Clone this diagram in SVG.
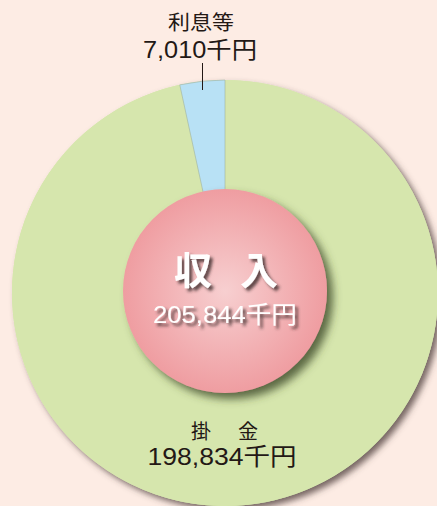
<svg xmlns="http://www.w3.org/2000/svg" width="437" height="506" viewBox="0 0 437 506">
<style>
.lbl{font-family:"Liberation Sans","Noto Sans CJK JP",sans-serif;fill:#231815;}
.wt{font-family:"Liberation Sans","Noto Sans CJK JP",sans-serif;fill:#ffffff;}
</style>
<defs>
<filter id="sh1" x="-10%" y="-10%" width="130%" height="130%">
<feGaussianBlur in="SourceAlpha" stdDeviation="3"/>
<feOffset dx="4" dy="4" result="b"/>
<feFlood flood-color="#4a3a38" flood-opacity="0.75"/>
<feComposite in2="b" operator="in"/>
<feMerge><feMergeNode/><feMergeNode in="SourceGraphic"/></feMerge>
</filter>
<filter id="sh2" x="-20%" y="-20%" width="150%" height="150%">
<feGaussianBlur in="SourceAlpha" stdDeviation="4"/>
<feOffset dx="6" dy="6" result="b"/>
<feFlood flood-color="#3e4a2a" flood-opacity="0.8"/>
<feComposite in2="b" operator="in"/>
<feMerge><feMergeNode/><feMergeNode in="SourceGraphic"/></feMerge>
</filter>
<filter id="tsh" x="-10%" y="-20%" width="130%" height="160%">
<feGaussianBlur in="SourceAlpha" stdDeviation="1.5"/>
<feOffset dx="3" dy="3" result="b"/>
<feFlood flood-color="#3a2a2a" flood-opacity="0.8"/>
<feComposite in2="b" operator="in"/>
<feMerge><feMergeNode/><feMergeNode in="SourceGraphic"/></feMerge>
</filter>
<radialGradient id="pk" cx="50%" cy="50%" r="50%">
<stop offset="0" stop-color="#f7cfd0"/>
<stop offset="1" stop-color="#ef9da1"/>
</radialGradient>
</defs>
<rect width="437" height="506" fill="#fdece4"/>
<g id="donut">
<g filter="url(#sh1)">
<circle cx="225" cy="293" r="213" fill="#d6e6ad"/>
</g>
<path id="kakekin" d="M225,293 L179.77,84.85 A213,213 0 1,0 225,80 Z" fill="#d6e6ad"/>
<path id="risoku" d="M225,293 L225,80 A213,213 0 0,0 179.77,84.85 Z" fill="#b8e1f5" stroke="#9fb2a0" stroke-width="0.6"/>
</g>
<g id="center" filter="url(#sh2)">
<circle cx="225" cy="291" r="102" fill="url(#pk)"/>
</g>
<g id="center-text" filter="url(#tsh)">
<text class="wt" x="193" y="284" font-size="38" font-weight="bold" text-anchor="middle" font-family="Noto Sans CJK JP, sans-serif">収</text>
<text class="wt" x="259" y="284" font-size="38" font-weight="bold" text-anchor="middle" font-family="Noto Sans CJK JP, sans-serif">入</text>
<text class="wt" x="225" y="323" font-size="24" text-anchor="middle" textLength="144" lengthAdjust="spacingAndGlyphs">205,844千円</text>
</g>
<g id="label-risoku">
<text class="lbl" x="201" y="30" font-size="20" text-anchor="middle" textLength="66" lengthAdjust="spacingAndGlyphs">利息等</text>
<text class="lbl" x="200" y="58" font-size="23" text-anchor="middle" textLength="114" lengthAdjust="spacingAndGlyphs">7,010千円</text>
</g>
<g id="label-kakekin">
<text class="lbl" x="201" y="439" font-size="20" text-anchor="middle">掛</text>
<text class="lbl" x="248" y="439" font-size="20" text-anchor="middle">金</text>
<text class="lbl" x="222" y="465" font-size="24" text-anchor="middle" textLength="149" lengthAdjust="spacingAndGlyphs">198,834千円</text>
</g>
<g id="connectors">
<line x1="202.5" y1="63" x2="202.5" y2="90" stroke="#231815" stroke-width="1"/>
</g>
</svg>
